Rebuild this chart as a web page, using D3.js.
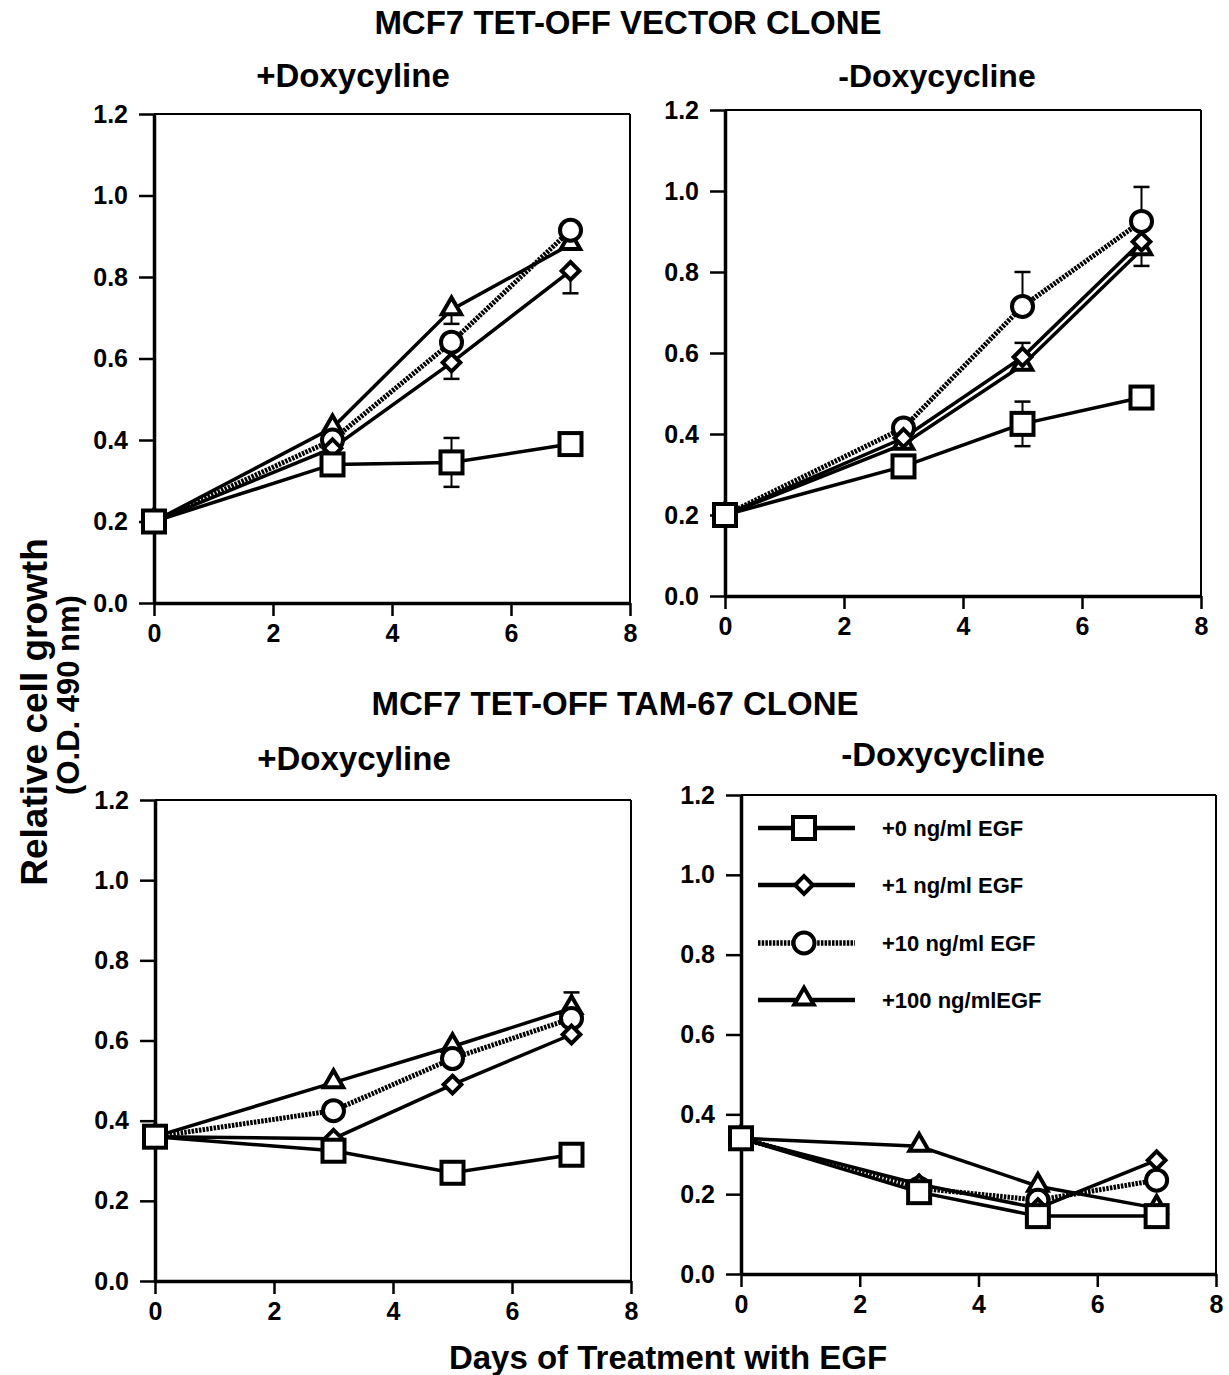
<!DOCTYPE html>
<html>
<head>
<meta charset="utf-8">
<script src="https://cdn.jsdelivr.net/npm/d3@7"></script>
<style>
  body { margin: 0; background: #fff; }
  svg text { font-family: "Liberation Sans", Arial, sans-serif; font-weight: bold; fill: #000; }
</style>
</head>
<body>
<div id="chart"></div>
<script>
// days of EGF treatment and the four EGF doses
var days = [0, 3, 5, 7]
var doses = ["+0 ng/ml EGF", "+1 ng/ml EGF", "+10 ng/ml EGF", "+100 ng/mlEGF"]
var xTicks = [0, 2, 4, 6, 8]
var yTicks = [0, 0.2, 0.4, 0.6, 0.8, 1.0, 1.2]

// O.D. 490 values, one row per dose (0, 1, 10, 100 ng/ml)
var vectorPlusDox = [
    [0.20, 0.34, 0.345, 0.39],
    [0.20, 0.38, 0.59, 0.815],
    [0.20, 0.40, 0.64, 0.915],
    [0.20, 0.43, 0.72, 0.88]
]
var vectorMinusDox = [
    [0.20, 0.32, 0.425, 0.49],
    [0.20, 0.39, 0.59, 0.875],
    [0.20, 0.415, 0.715, 0.925],
    [0.20, 0.375, 0.57, 0.855]
]
var tamPlusDox = [
    [0.36, 0.325, 0.27, 0.315],
    [0.36, 0.355, 0.49, 0.615],
    [0.36, 0.425, 0.555, 0.655],
    [0.36, 0.495, 0.585, 0.68]
]
var tamMinusDox = [
    [0.34, 0.205, 0.145, 0.145],
    [0.34, 0.225, 0.165, 0.285],
    [0.34, 0.215, 0.185, 0.235],
    [0.34, 0.32, 0.22, 0.165]
]

// error bars: [dose index, day, error end]
var vectorPlusDoxErr = [[0, 5, 0.285], [0, 5, 0.405], [1, 5, 0.55], [1, 7, 0.76], [3, 5, 0.685]]
var vectorMinusDoxErr = [[0, 5, 0.37], [0, 5, 0.48], [2, 5, 0.80], [2, 7, 1.01], [1, 5, 0.625], [3, 7, 0.815]]
var tamPlusDoxErr = [[3, 7, 0.72]]
var tamMinusDoxErr = []

var width = 1229, height = 1375

var svg = d3.select("#chart").append("svg")
    .attr("width", width)
    .attr("height", height)

var panels = [
    { left: 154, right: 630, bottom: 603, top: 114, values: vectorPlusDox, err: vectorPlusDoxErr },
    { left: 725, right: 1201, bottom: 596, top: 110, values: vectorMinusDox, err: vectorMinusDoxErr },
    { left: 155, right: 631, bottom: 1281, top: 800, values: tamPlusDox, err: tamPlusDoxErr },
    { left: 741, right: 1216, bottom: 1274, top: 795, values: tamMinusDox, err: tamMinusDoxErr, legend: true }
]

function drawMarker(g, kind, cx, cy) {
    if (kind == 0) {
        g.append("rect").attr("x", cx - 11).attr("y", cy - 11).attr("width", 22).attr("height", 22)
            .attr("fill", "#fff").attr("stroke", "#000").attr("stroke-width", 4)
    } else if (kind == 1) {
        g.append("path").attr("d", d3.symbol(d3.symbolDiamond2, 200)())
            .attr("transform", "translate(" + cx + "," + cy + ")")
            .attr("fill", "#fff").attr("stroke", "#000").attr("stroke-width", 4)
    } else if (kind == 2) {
        g.append("circle").attr("cx", cx).attr("cy", cy).attr("r", 10.5)
            .attr("fill", "#fff").attr("stroke", "#000").attr("stroke-width", 4)
    } else {
        g.append("path").attr("d", d3.symbol(d3.symbolTriangle2, 270)())
            .attr("transform", "translate(" + cx + "," + (cy - 1) + ")")
            .attr("fill", "#fff").attr("stroke", "#000").attr("stroke-width", 4)
    }
}

function styleLine(sel, k) {
    sel.attr("fill", "none").attr("stroke", "#000")
    if (k == 2) {
        sel.attr("stroke-width", 5).attr("stroke-dasharray", "2.5,1.2")
    } else {
        sel.attr("stroke-width", 3.5)
    }
}

panels.forEach(function(p) {
    var x = d3.scaleLinear().domain([0, 8]).range([p.left, p.right])
    var y = d3.scaleLinear().domain([0, 1.2]).range([p.bottom, p.top])
    var g = svg.append("g")

    // thin frame on top and right
    g.append("line").attr("x1", p.left).attr("x2", p.right).attr("y1", p.top).attr("y2", p.top)
        .attr("stroke", "#000").attr("stroke-width", 2)
    g.append("line").attr("x1", p.right).attr("x2", p.right).attr("y1", p.top).attr("y2", p.bottom)
        .attr("stroke", "#000").attr("stroke-width", 2)

    var yAxis = g.append("g").attr("transform", "translate(" + p.left + ",0)")
        .call(d3.axisLeft(y).tickValues(yTicks).tickFormat(d3.format(".1f")).tickSize(15).tickSizeOuter(0).tickPadding(11))
    var xAxis = g.append("g").attr("transform", "translate(0," + p.bottom + ")")
        .call(d3.axisBottom(x).tickValues(xTicks).tickSize(13).tickSizeOuter(0).tickPadding(8))

    ;[yAxis, xAxis].forEach(function(a) {
        a.select(".domain").attr("stroke-width", 3.5)
        a.selectAll(".tick line").attr("stroke-width", 2.5)
        a.selectAll(".tick text").attr("font-size", 25).attr("font-family", "Liberation Sans, Arial, sans-serif")
            .attr("font-weight", "bold")
    })

    var line = d3.line().x(function(d, i) { return x(days[i]) }).y(function(d) { return y(d) })

    p.values.forEach(function(vals, k) {
        g.append("path").datum(vals).attr("d", line).call(styleLine, k)
    })

    // error bars with caps
    p.err.forEach(function(e) {
        var k = e[0], day = e[1], end = e[2]
        var v = p.values[k][days.indexOf(day)]
        g.append("line").attr("x1", x(day)).attr("x2", x(day)).attr("y1", y(v)).attr("y2", y(end))
            .attr("stroke", "#000").attr("stroke-width", 2)
        g.append("line").attr("x1", x(day) - 8).attr("x2", x(day) + 8).attr("y1", y(end)).attr("y2", y(end))
            .attr("stroke", "#000").attr("stroke-width", 2.5)
    })

    // markers, drawn from highest dose so the open square sits on top
    for (var k = 3; k >= 0; k--) {
        p.values[k].forEach(function(v, i) {
            drawMarker(g, k, x(days[i]), y(v))
        })
    }

    if (p.legend) {
        var legendY = [828, 885, 943, 1000]
        doses.forEach(function(name, k) {
            g.append("line").attr("x1", p.left + 17).attr("x2", p.left + 114)
                .attr("y1", legendY[k]).attr("y2", legendY[k]).call(styleLine, k)
            g.select("line:last-child").attr("stroke-width", k == 2 ? 5.5 : 4.5)
            drawMarker(g, k, p.left + 63, legendY[k])
            g.append("text").attr("x", p.left + 141).attr("y", legendY[k])
                .attr("dy", "0.35em").attr("font-size", 22).text(name)
        })
    }
})

// titles
svg.append("text").attr("x", 628).attr("y", 34).attr("text-anchor", "middle").attr("font-size", 33)
    .text("MCF7 TET-OFF VECTOR CLONE")
svg.append("text").attr("x", 615).attr("y", 715).attr("text-anchor", "middle").attr("font-size", 33)
    .text("MCF7 TET-OFF TAM-67 CLONE")
svg.append("text").attr("x", 353).attr("y", 87).attr("text-anchor", "middle").attr("font-size", 33).text("+Doxycyline")
svg.append("text").attr("x", 937).attr("y", 87).attr("text-anchor", "middle").attr("font-size", 32).text("-Doxycycline")
svg.append("text").attr("x", 354).attr("y", 770).attr("text-anchor", "middle").attr("font-size", 33).text("+Doxycyline")
svg.append("text").attr("x", 943).attr("y", 766).attr("text-anchor", "middle").attr("font-size", 33).text("-Doxycycline")

// axis titles
svg.append("text").attr("transform", "translate(47,712) rotate(-90)").attr("text-anchor", "middle")
    .attr("font-size", 37).text("Relative cell growth")
svg.append("text").attr("transform", "translate(79,695) rotate(-90)").attr("text-anchor", "middle")
    .attr("font-size", 31).text("(O.D. 490 nm)")
svg.append("text").attr("x", 668).attr("y", 1369).attr("text-anchor", "middle").attr("font-size", 33)
    .text("Days of Treatment with EGF")
</script>
</body>
</html>
